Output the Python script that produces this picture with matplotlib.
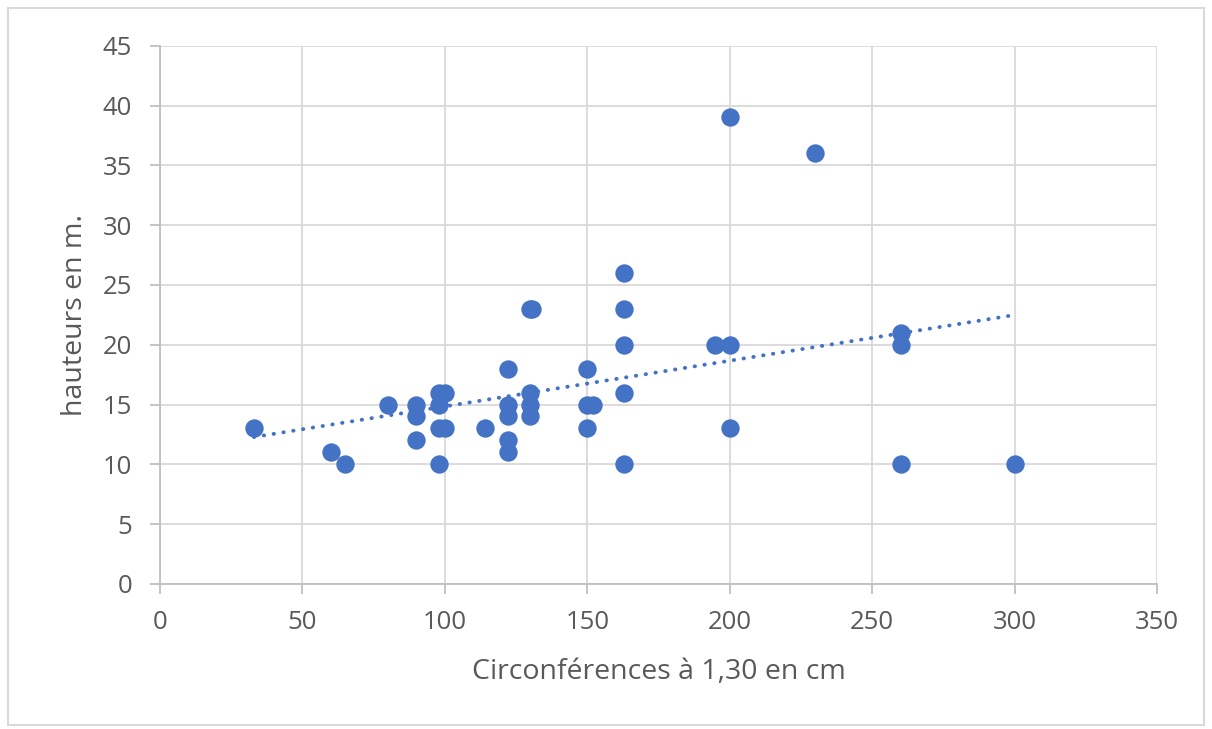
import numpy as np
import matplotlib
matplotlib.use("Agg")
import matplotlib.pyplot as plt
from matplotlib.patches import Rectangle

# Circumference at 1.30 m (cm) and tree height (m)
circ = [33, 60, 65, 80, 90, 90, 90, 98, 100, 98, 98, 100, 98, 114,
        122, 122, 122, 122, 122, 130, 130.7, 130, 130, 130,
        150, 150, 152, 150, 163, 163, 163, 163, 163,
        195, 200, 200, 200, 230, 260, 260, 260, 300]
height = [13, 11, 10, 15, 15, 14, 12, 16, 16, 15, 13, 13, 10, 13,
          18, 15, 14, 12, 11, 23, 23, 16, 15, 14,
          18, 15, 15, 13, 26, 23, 20, 16, 10,
          20, 20, 13, 39, 36, 21, 20, 10, 10]

x_ticks = [0, 50, 100, 150, 200, 250, 300, 350]
y_ticks = [0, 5, 10, 15, 20, 25, 30, 35, 40, 45]

plt.rcParams['font.family'] = ['Open Sans', 'DejaVu Sans']

blue = '#4472C4'
grid_c = '#D9D9D9'
text_c = '#595959'

fig = plt.figure(figsize=(12.12, 7.29), dpi=100)
ax = fig.add_axes([0.132, 0.199, 0.8226, 0.7383])

ax.scatter(circ, height, s=175, color=blue, zorder=3, linewidths=0)

# linear trend line, like Excel's
a, b = np.polyfit(circ, height, 1)
xs = np.array([min(circ), max(circ)])
ax.plot(xs, a * xs + b, color=blue, lw=2.8, linestyle=(0, (0.1, 2.45)),
        dash_capstyle='round', zorder=2)

ax.set_xlim(0, 350)
ax.set_ylim(0, 45)
ax.set_xticks(x_ticks)
ax.set_yticks(y_ticks)
ax.grid(True, color=grid_c, lw=1.3)
ax.set_axisbelow(True)
for s in ['top', 'right']:
    ax.spines[s].set_visible(False)
for s in ['left', 'bottom']:
    ax.spines[s].set_color('#BFBFBF')
    ax.spines[s].set_linewidth(1.3)
ax.tick_params(axis='both', colors='#BFBFBF', length=7, width=1.3,
               labelcolor=text_c, labelsize=18.5)
ax.tick_params(axis='y', pad=13)
ax.tick_params(axis='x', pad=12)

ax.set_xlabel('Circonférences à 1,30 en cm', fontsize=20.5, color=text_c, labelpad=16)
ax.set_ylabel('hauteurs en m.', fontsize=20.5, color=text_c, labelpad=10)

fig.patches.append(Rectangle((8 / 1212, 4 / 729), 1196 / 1212, 717 / 729,
                             transform=fig.transFigure, fill=False,
                             edgecolor=grid_c, lw=1.5))

fig.savefig('out.png', dpi=100)
